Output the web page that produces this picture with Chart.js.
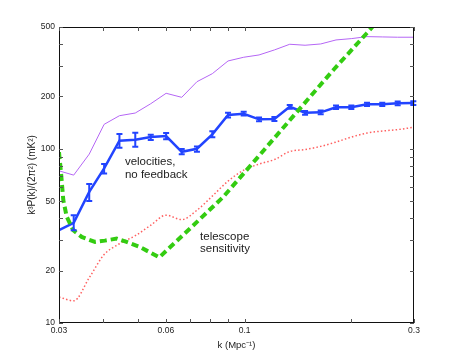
<!DOCTYPE html>
<html>
<head>
<meta charset="utf-8">
<script src="https://cdn.jsdelivr.net/npm/chart.js@4"></script>
<style>
  html, body { margin: 0; padding: 0; background: #fff; }
</style>
</head>
<body>
<canvas id="chart" width="457" height="363"></canvas>
<script>
// k (Mpc^-1) sample points of the simulated spectra
const kGrid = [0.030, 0.0330, 0.0365, 0.0402, 0.0444, 0.0492, 0.0544, 0.0601, 0.0665, 0.0734, 0.0811, 0.0898,
  0.0994, 0.1098, 0.1213, 0.1340, 0.1480, 0.1638, 0.1809, 0.1998, 0.2212, 0.2442, 0.2699, 0.2987];

// velocities, no feedback (with error bars)
const velocities = [34.1, 37.6, 56.6, 77.2, 111.2, 112.6, 116.7, 118.3, 96.1, 100, 121, 156.2,
  158.9, 147.6, 148.2, 174.3, 161, 161.9, 173, 173, 180, 180, 182.4, 183];
const velLow = [null, 34.1, 50.2, 72.2, 101.3, 102.7, 112.2, 113.3, 92.9, 96.1, 116.3, 151.4,
  155, 144, 144.5, 170, 157, 158, 169, 169, 176, 176, 178, 178.5];
const velHigh = [null, 41.6, 62.7, 81.7, 121.5, 123.6, 120.4, 123, 99.6, 103.2, 126, 161,
  163, 151, 152, 178.5, 165, 166, 177, 177, 184, 184, 187, 187.5];

// thin purple curve (upper model)
const upperModel = [74.7, 70.6, 93.2, 138.1, 154.8, 160.4, 181.4, 208.2, 197.4, 242.7, 269.8, 319.2,
  335.2, 345.6, 369.2, 398, 392.9, 399.6, 421.4, 428.8, 440.3, 438.5, 436.8, 436.8];

// red dotted curve (lower model)
const lowerModel = [14.1, 13.4, 18.2, 24.7, 28.5, 31.7, 36.4, 41.6, 39.2, 44.4, 53.5, 65.2,
  75.4, 81.7, 86.7, 96.4, 99, 103.2, 109.3, 116.7, 123.1, 126.4, 128.9, 132.7];

// telescope sensitivity (green dashed)
const kSens = [0.030, 0.0304, 0.03085, 0.03154, 0.03291, 0.03475, 0.0379, 0.0404, 0.0436, 0.0465,
  0.0507, 0.0575, 0.0702, 0.0871, 0.1082, 0.1342, 0.1778, 0.2208, 0.2438];
const sensitivity = [95.7, 72.5, 50.7, 40.7, 34.1, 31.2, 29.2, 29.7, 30.5, 29.2,
  27.3, 23.8, 34.9, 53, 88.1, 146.2, 283.4, 460.4, 578.9];

const xTickLabels = [0.03, 0.06, 0.1, 0.3];
const xTickMarks = [0.03, 0.04, 0.05, 0.06, 0.07, 0.08, 0.09, 0.1, 0.2, 0.3];
const yTickLabels = [10, 20, 50, 100, 200, 500];
const yTickMarks = [10, 20, 30, 40, 50, 60, 70, 80, 90, 100, 200, 300, 400, 500];

const FONT = '"Liberation Sans", Arial, Helvetica, sans-serif';
const TEXT = '#222';

function pts(xs, ys) {
  return xs.map((x, i) => ({ x: x, y: ys[i] }));
}

// frame, inward ticks, error bars and text labels (matlab look)
const extras = {
  id: 'extras',
  afterDatasetsDraw(chart) {
    const { ctx, chartArea: a, scales: { x, y } } = chart;
    ctx.save();

    // error bars on the blue curve
    ctx.strokeStyle = '#2244ff';
    ctx.lineWidth = 2;
    kGrid.forEach((k, i) => {
      if (velLow[i] == null) return;
      const px = x.getPixelForValue(k);
      const lo = y.getPixelForValue(velLow[i]);
      const hi = y.getPixelForValue(velHigh[i]);
      ctx.beginPath();
      ctx.moveTo(px, lo); ctx.lineTo(px, hi);
      ctx.moveTo(px - 3, lo); ctx.lineTo(px + 3, lo);
      ctx.moveTo(px - 3, hi); ctx.lineTo(px + 3, hi);
      ctx.stroke();
    });

    // box + ticks
    ctx.strokeStyle = '#111';
    ctx.lineWidth = 1;
    ctx.strokeRect(a.left + 0.5, a.top + 0.5, a.right - a.left - 1, a.bottom - a.top - 1);
    ctx.strokeStyle = '#555';
    ctx.beginPath();
    xTickMarks.forEach(v => {
      const px = Math.round(x.getPixelForValue(v)) + 0.5;
      ctx.moveTo(px, a.bottom); ctx.lineTo(px, a.bottom - 4);
      ctx.moveTo(px, a.top); ctx.lineTo(px, a.top + 4);
    });
    yTickMarks.forEach(v => {
      const py = Math.round(y.getPixelForValue(v)) + 0.5;
      ctx.moveTo(a.left, py); ctx.lineTo(a.left + 4, py);
      ctx.moveTo(a.right, py); ctx.lineTo(a.right - 4, py);
    });
    ctx.stroke();

    // annotations
    ctx.fillStyle = TEXT;
    ctx.font = '11.5px ' + FONT;
    ctx.textBaseline = 'middle';
    ctx.textAlign = 'left';
    let tx = x.getPixelForValue(0.046), ty = y.getPixelForValue(84);
    ctx.fillText('velocities,', tx, ty);
    ctx.fillText('no feedback', tx, ty + 12.5);
    tx = x.getPixelForValue(0.0749); ty = y.getPixelForValue(31.3);
    ctx.fillText('telescope', tx, ty);
    ctx.fillText('sensitivity', tx, ty + 12.5);
    ctx.restore();
  }
};

new Chart(document.getElementById('chart'), {
  type: 'line',
  data: {
    datasets: [
      {
        data: pts(kSens, sensitivity),
        borderColor: '#33cc11',
        borderWidth: 4,
        borderDash: [7, 4],
        pointRadius: 0,
        tension: 0,
        clip: 0,
        order: 1
      },
      {
        data: pts(kGrid, velocities),
        borderColor: '#2244ff',
        borderWidth: 2.5,
        pointRadius: 0,
        tension: 0,
        clip: 0,
        order: 2
      },
      {
        data: pts(kGrid, upperModel),
        borderColor: '#b566f5',
        borderWidth: 1,
        pointRadius: 0,
        tension: 0,
        clip: 0,
        order: 3
      },
      {
        data: pts(kGrid, lowerModel),
        borderColor: '#ff6060',
        borderWidth: 1.5,
        borderDash: [1.5, 2.2],
        pointRadius: 0,
        cubicInterpolationMode: 'monotone',
        clip: 0,
        order: 4
      }
    ]
  },
  options: {
    responsive: false,
    animation: false,
    devicePixelRatio: 1,
    layout: { padding: { left: 0, top: 27, right: 43, bottom: 0 } },
    plugins: { legend: { display: false }, tooltip: { enabled: false } },
    scales: {
      x: {
        type: 'logarithmic',
        min: 0.03,
        max: 0.3,
        grid: { display: false, drawTicks: false },
        border: { display: false },
        afterBuildTicks: s => { s.ticks = xTickLabels.map(v => ({ value: v })); },
        afterFit: s => { s.height = 40; },
        ticks: {
          autoSkip: false,
          maxRotation: 0,
          padding: 3,
          color: TEXT,
          font: { family: FONT, size: 8.5 },
          callback: v => String(v)
        },
        title: {
          display: true,
          text: 'k (Mpc\u207B\u00B9)',
          color: TEXT,
          font: { family: FONT, size: 9.5 },
          padding: { top: 0, bottom: 12 }
        }
      },
      y: {
        type: 'logarithmic',
        min: 10,
        max: 500,
        grid: { display: false, drawTicks: false },
        border: { display: false },
        afterBuildTicks: s => { s.ticks = yTickLabels.map(v => ({ value: v })); },
        afterFit: s => { s.width = 59; },
        ticks: {
          autoSkip: false,
          padding: 4,
          color: TEXT,
          font: { family: FONT, size: 8.5 },
          callback: v => String(v)
        },
        title: {
          display: true,
          text: 'k\u00B3P(k)/(2\u03C0\u00B2) (mK\u00B2)',
          color: TEXT,
          font: { family: FONT, size: 10 },
          padding: { top: 26, bottom: 0 }
        }
      }
    }
  },
  plugins: [extras]
});
</script>
</body>
</html>
